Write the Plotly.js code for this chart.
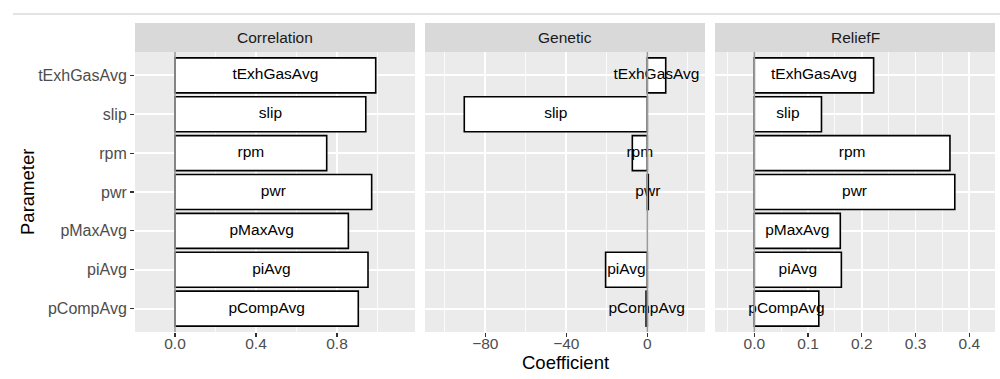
<!DOCTYPE html>
<html><head><meta charset="utf-8">
<script src="https://cdn.plot.ly/plotly-3.0.1.min.js"></script>
<style>html,body{margin:0;padding:0;background:#fff}#chart{width:1000px;height:379px}</style>
</head><body><div id="chart"></div>
<script>
// ---- data ----
const parameters = ['pCompAvg', 'piAvg', 'pMaxAvg', 'pwr', 'rpm', 'slip', 'tExhGasAvg'];
const correlation = [0.905, 0.953, 0.856, 0.971, 0.749, 0.942, 0.991];
const genetic = [-0.6, -20.6, null, 0.5, -7.4, -90.4, 9.1];
const relieff = [0.120, 0.162, 0.160, 0.373, 0.364, 0.125, 0.222];
const methods = ['Correlation', 'Genetic', 'ReliefF'];
const correlationTicks = [0, 0.4, 0.8];
const geneticTicks = [-80, -40, 0];
const relieffTicks = [0, 0.1, 0.2, 0.3, 0.4];
const yTitle = 'Parameter';
const xTitle = 'Coefficient';

// ---- layout/style ----
const FONT = '"Liberation Sans", Arial, Helvetica, sans-serif';
const H = 379, W = 1000;
const py = v => 1 - v / H;
const panels = [
  {vals: correlation, ticks: correlationTicks, fmt: '.1f', dom: [0.135, 0.415], range: [-0.1975, 1.185], minor: 0.2},
  {vals: genetic, ticks: geneticTicks, fmt: '', dom: [0.425, 0.705], range: [-109.8, 28.5], minor: 20},
  {vals: relieff, ticks: relieffTicks, fmt: '.1f', dom: [0.715, 0.995], range: [-0.0731, 0.4478], minor: 0.05}
];
const yDom = [py(332), py(52)];

const data = [];
const layout = {
  width: W, height: H,
  margin: {l: 0, r: 0, t: 0, b: 0},
  paper_bgcolor: '#ffffff',
  plot_bgcolor: '#ebebeb',
  showlegend: false,
  font: {family: FONT, color: '#000'},
  shapes: [], annotations: []
};

panels.forEach((p, i) => {
  const s = i === 0 ? '' : String(i + 1);
  data.push({
    type: 'bar', orientation: 'h',
    x: p.vals, y: parameters,
    xaxis: 'x' + s, yaxis: 'y' + s,
    width: 0.9,
    marker: {color: '#ffffff', line: {color: '#000000', width: 1.6}},
    hoverinfo: 'skip'
  });
  data.push({
    type: 'scatter', mode: 'text',
    x: p.vals.map(v => (v === null ? null : v / 2)), y: parameters,
    text: parameters,
    textposition: 'middle center',
    textfont: {family: FONT, size: 15.5, color: '#000000'},
    xaxis: 'x' + s, yaxis: 'y' + s,
    cliponaxis: false, hoverinfo: 'skip'
  });
  layout['xaxis' + s] = {
    domain: p.dom, range: p.range, anchor: 'y' + s,
    tickmode: 'array', tickvals: p.ticks, tickformat: p.fmt,
    ticks: 'outside', ticklen: 4, tickwidth: 1.2, tickcolor: '#333333',
    ticklabelstandoff: -7,
    tickfont: {family: FONT, size: 15.5, color: '#4d4d4d'},
    showgrid: true, gridcolor: '#ffffff', gridwidth: 1.8,
    minor: {dtick: p.minor, tick0: 0, showgrid: true, gridcolor: '#ffffff', gridwidth: 0.8, ticks: ''},
    zeroline: false, showline: false, fixedrange: true, automargin: false
  };
  layout['yaxis' + s] = {
    domain: yDom, anchor: 'x' + s,
    type: 'category', categoryorder: 'array', categoryarray: parameters,
    range: [-0.6, 6.6],
    showticklabels: i === 0,
    ticks: i === 0 ? 'outside' : '', ticklen: 4, tickwidth: 1.2, tickcolor: '#333333',
    tickfont: {family: FONT, size: 16, color: '#4d4d4d'},
    showgrid: true, gridcolor: '#ffffff', gridwidth: 1.8,
    zeroline: false, showline: false, fixedrange: true, automargin: false
  };
  // strip
  layout.shapes.push({
    type: 'rect', xref: 'paper', yref: 'paper',
    x0: p.dom[0], x1: p.dom[1], y0: py(52), y1: py(23),
    fillcolor: '#d9d9d9', line: {width: 0}, layer: 'below'
  });
  layout.annotations.push({
    xref: 'paper', yref: 'paper', x: (p.dom[0] + p.dom[1]) / 2, y: py(37.5),
    text: methods[i], showarrow: false, xanchor: 'center', yanchor: 'middle',
    font: {family: FONT, size: 15.5, color: '#1a1a1a'}
  });
  // reference line at zero
  layout.shapes.push({
    type: 'line', xref: 'x' + s, yref: 'y' + s + ' domain',
    x0: 0, x1: 0, y0: 0, y1: 1,
    line: {color: '#9a9a9a', width: 1.6}, layer: 'above'
  });
});

// top separator line
layout.shapes.push({
  type: 'line', xref: 'paper', yref: 'paper',
  x0: 0.013, x1: 1, y0: py(14), y1: py(14),
  line: {color: '#e3e3e3', width: 2}
});

layout.annotations.push({
  xref: 'paper', yref: 'paper', x: 0.565, y: py(362),
  text: xTitle, showarrow: false, xanchor: 'center', yanchor: 'middle',
  font: {family: FONT, size: 18.5, color: '#000000'}
});
layout.annotations.push({
  xref: 'paper', yref: 'paper', x: 27 / W, y: py(192),
  text: yTitle, showarrow: false, textangle: -90, xanchor: 'center', yanchor: 'middle',
  font: {family: FONT, size: 18.5, color: '#000000'}
});

Plotly.newPlot('chart', data, layout, {displayModeBar: false, staticPlot: true});
</script>
</body></html>
